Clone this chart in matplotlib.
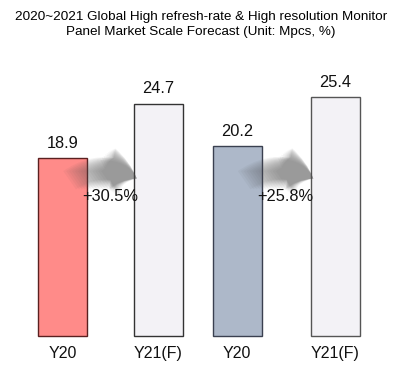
import matplotlib
matplotlib.use("Agg")
import matplotlib.pyplot as plt
from matplotlib.patches import FancyArrowPatch

plt.rcParams["font.family"] = ["Liberation Sans", "DejaVu Sans"]

# data
categories = ["Y20", "Y21(F)", "Y20", "Y21(F)"]
values = [18.9, 24.7, 20.2, 25.4]
growth_labels = ["+30.5%", "+25.8%"]
title = ("2020~2021 Global High refresh-rate & High resolution Monitor\n"
         "Panel Market Scale Forecast (Unit: Mpcs, %)")

# layout
xpos = [0, 0.99, 1.80, 2.81]
bar_colors = ["#ff8b89", "#f3f2f6", "#adb8c9", "#f3f2f6"]
edge_colors = ["#5a2020", "#333333", "#3a4050", "#555555"]

fig = plt.figure(figsize=(4.02, 3.79), dpi=100)
fig.patch.set_facecolor("white")
ax = fig.add_axes([0, 0, 1, 1])
ax.set_xlim(-0.644, 3.5)
ax.set_ylim(-4.57, 35.74)
ax.axis("off")

ax.bar(xpos, values, width=0.505, color=bar_colors, edgecolor=edge_colors, linewidth=1.0)

for x, v, c in zip(xpos, values, categories):
    ax.text(x, v + 0.8, f"{v}", ha="center", va="bottom", fontsize=11.8, color="#111111")
    ax.text(x, -1.1, c, ha="center", va="top", fontsize=11.5, color="#111111")

# curved growth arrows, layered for a fading tail
for i, lab in enumerate(growth_labels):
    x0 = xpos[2 * i] + 0.05
    x1 = xpos[2 * i + 1] - 0.2
    for k in range(14):
        xs = x0 + 0.03 * k
        arr = FancyArrowPatch((xs, 16.4), (x1, 16.6),
                              connectionstyle="arc3,rad=-0.35",
                              arrowstyle="simple,head_width=3.0,head_length=1.9,tail_width=1.6",
                              mutation_scale=10, color="#4e4e4e", alpha=0.055, lw=0)
        ax.add_patch(arr)
    ax.text((x0 + x1) / 2 + 0.07, 14.8, lab, ha="center", va="center",
            fontsize=11.8, color="#111111")

fig.text(0.5, 0.936, title, ha="center", va="center", fontsize=9.7, linespacing=1.35)

fig.savefig("out.png", dpi=100)
